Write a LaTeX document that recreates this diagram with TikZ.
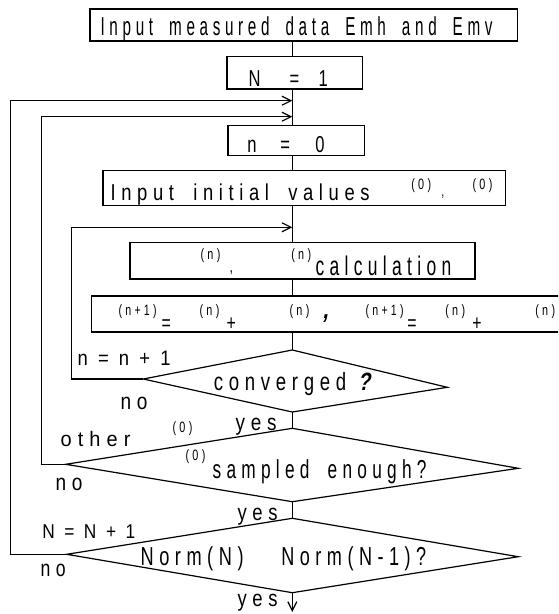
\documentclass[tikz,border=0pt]{standalone}
\usepackage{fontspec}
\usepackage{graphicx}
\usetikzlibrary{arrows.meta}
\newfontfamily\nf[FakeStretch=0.72,LetterSpace=22,WordSpace=1.8]{Liberation Sans}
\newfontfamily\nfn[FakeStretch=0.73,LetterSpace=20]{Liberation Sans}
\newfontfamily\nfb[FakeStretch=0.8,FakeSlant=0.2]{Liberation Sans Bold}
\newcommand{\fs}[1]{\fontsize{#1}{#1}\selectfont}
\newcommand{\fw}[2]{\resizebox{#1pt}{\height}{#2}}
\begin{document}
\begin{tikzpicture}[x=1pt,y=-1pt,line width=1.2pt,
  box/.style={draw,line width=1.4pt,inner sep=0pt},
  lbl/.style={inner sep=0pt,anchor=base west,font=\nf},
  sup/.style={inner sep=0pt,anchor=base west,font=\nf\fs{15}},
  arr/.style={-{Straight Barb[length=9pt,width=9pt]}}]
\useasboundingbox[fill=white] (0,0) rectangle (558,614);
\clip (0,0) rectangle (558,614);
% main axis
\coordinate (m) at (292.3,0);
% boxes
\node[box,minimum width=427.3pt,minimum height=32pt] (b1) at (303.65,25) {};
\node[box,minimum width=135.3pt,minimum height=32.3pt] (b2) at (294.65,72.85) {};
\node[box,minimum width=136.7pt,minimum height=30pt] (b3) at (296.35,140.7) {};
\node[box,minimum width=402.7pt,minimum height=35pt] (b4) at (304.35,188.2) {};
\node[box,minimum width=345pt,minimum height=36.3pt] (b5) at (302.5,260.85) {};
\node[box,minimum width=508.3pt,minimum height=36pt] (b6) at (345.85,314) {};
% diamonds
\coordinate (d1t) at (292.3,350);  \coordinate (d1r) at (447.3,387.3);
\coordinate (d1b) at (292.3,412);  \coordinate (d1l) at (143.3,379);
\coordinate (d2t) at (292.3,428.3); \coordinate (d2r) at (518.3,468.3);
\coordinate (d2b) at (292.3,501.7); \coordinate (d2l) at (65.7,464.3);
\coordinate (d3t) at (292.3,518.3); \coordinate (d3r) at (518.3,556.7);
\coordinate (d3b) at (292.3,592.7); \coordinate (d3l) at (66.7,554.3);
\draw (d1t) -- (d1r) -- (d1b) -- (d1l) -- cycle;
\draw (d2t) -- (d2r) -- (d2b) -- (d2l) -- cycle;
\draw (d3t) -- (d3r) -- (d3b) -- (d3l) -- cycle;
% arrow targets
\coordinate (a1) at (292.3,100.7);
\coordinate (a2) at (292.3,116.7);
\coordinate (a3) at (292.3,227.3);
\coordinate (end) at (292.3,612);
% main flow
\draw (m |- b1.south) -- (m |- b2.north);
\draw (m |- b2.south) -- (m |- b3.north);
\draw (m |- b3.south) -- (m |- b4.north);
\draw (m |- b4.south) -- (m |- b5.north);
\draw (m |- b5.south) -- (m |- b6.north);
\draw (m |- b6.south) -- (d1t);
\draw (d1b) -- (d2t);
\draw (d2b) -- (d3t);
\draw[arr] (d3b) -- (end);
% loops
\draw[arr] (d1l) -- (71.7,379) |- (a3);
\draw[arr] (d2l) -- (41.7,464.3) |- (a2);
\draw[arr] (d3l) -- (10.7,554.3) |- (a1);
% texts
\node[lbl] (t1) at (100,35) {\fs{26}\fw{392}{Input measured data Emh and Emv}};
\node[lbl] (t2) at (248,86) {\fs{23}\makebox[41pt][l]{N}\makebox[29pt][l]{=}1};
\node[lbl] (t3) at (246.7,152.7) {\fs{23}\makebox[33pt][l]{n}\makebox[35pt][l]{=}0};
\node[lbl] (t4) at (110,200) {\fs{23}\fw{259}{Input initial values}};
\node[sup] (t4a) at (410.7,189) {(0)};
\node[sup] (t4b) at (440.7,196) {,};
\node[sup] (t4c) at (472,189) {(0)};
\node[sup] (t5a) at (200,259) {(n)};
\node[sup] (t5b) at (229,272) {\fs{17},};
\node[sup] (t5c) at (290.7,259) {(n)};
\node[lbl] (t5) at (315,275) {\fs{27}\fw{135.7}{calculation}};
\node[sup] (w1) at (118,315) {\fw{38}{(n+1)}};
\node[lbl] (w2) at (161,330) {\fs{22}=};
\node[sup] (w3) at (199,315) {(n)};
\node[lbl] (w4) at (226,330) {\fs{22}+};
\node[sup] (w5) at (289,315) {(n)};
\node[lbl] (w6) at (322,318) {\nfb\fs{26},};
\node[sup] (w7) at (365,315) {\fw{38}{(n+1)}};
\node[lbl] (w8) at (406.7,330) {\fs{22}=};
\node[sup] (w9) at (444.7,315) {(n)};
\node[lbl] (w10) at (471.7,330) {\fs{22}+};
\node[sup] (w11) at (534.7,315) {(n)};
\node[lbl] (l1) at (77,365.7) {\nfn\fs{21}\fw{93}{n = n + 1}};
\node[lbl] (l2) at (213.3,390) {\fs{25}\fw{132.4}{converged}};
\node[lbl] (l2q) at (357.3,390) {\nfb\fs{25}?};
\node[lbl] (l3) at (120,409) {\fs{23}\fw{27}{no}};
\node[lbl] (l4) at (235,430) {\fs{23}\fw{41}{yes}};
\node[lbl] (l5) at (60,446) {\fs{21}\fw{70}{other}};
\node[sup] (l6) at (172,432) {(0)};
\node[sup] (l7) at (185,460) {(0)};
\node[lbl] (l8) at (212,478.3) {\fs{26}\fw{214}{sampled enough?}};
\node[lbl] (l9) at (55,490) {\fs{23}\fw{27}{no}};
\node[lbl] (l10) at (237,520) {\fs{23}\fw{40}{yes}};
\node[lbl] (l11) at (41.7,538.3) {\nfn\fs{20}\fw{93}{N = N + 1}};
\node[lbl] (l12) at (140,565) {\fs{26}\fw{103}{Norm(N)}};
\node[lbl] (l13) at (280.7,565) {\fs{26}\fw{145}{Norm(N-1)?}};
\node[lbl] (l14) at (40,576.7) {\fs{23}\fw{25}{no}};
\node[lbl] (l15) at (237,606) {\fs{23}\fw{40}{yes}};
\end{tikzpicture}
\end{document}
